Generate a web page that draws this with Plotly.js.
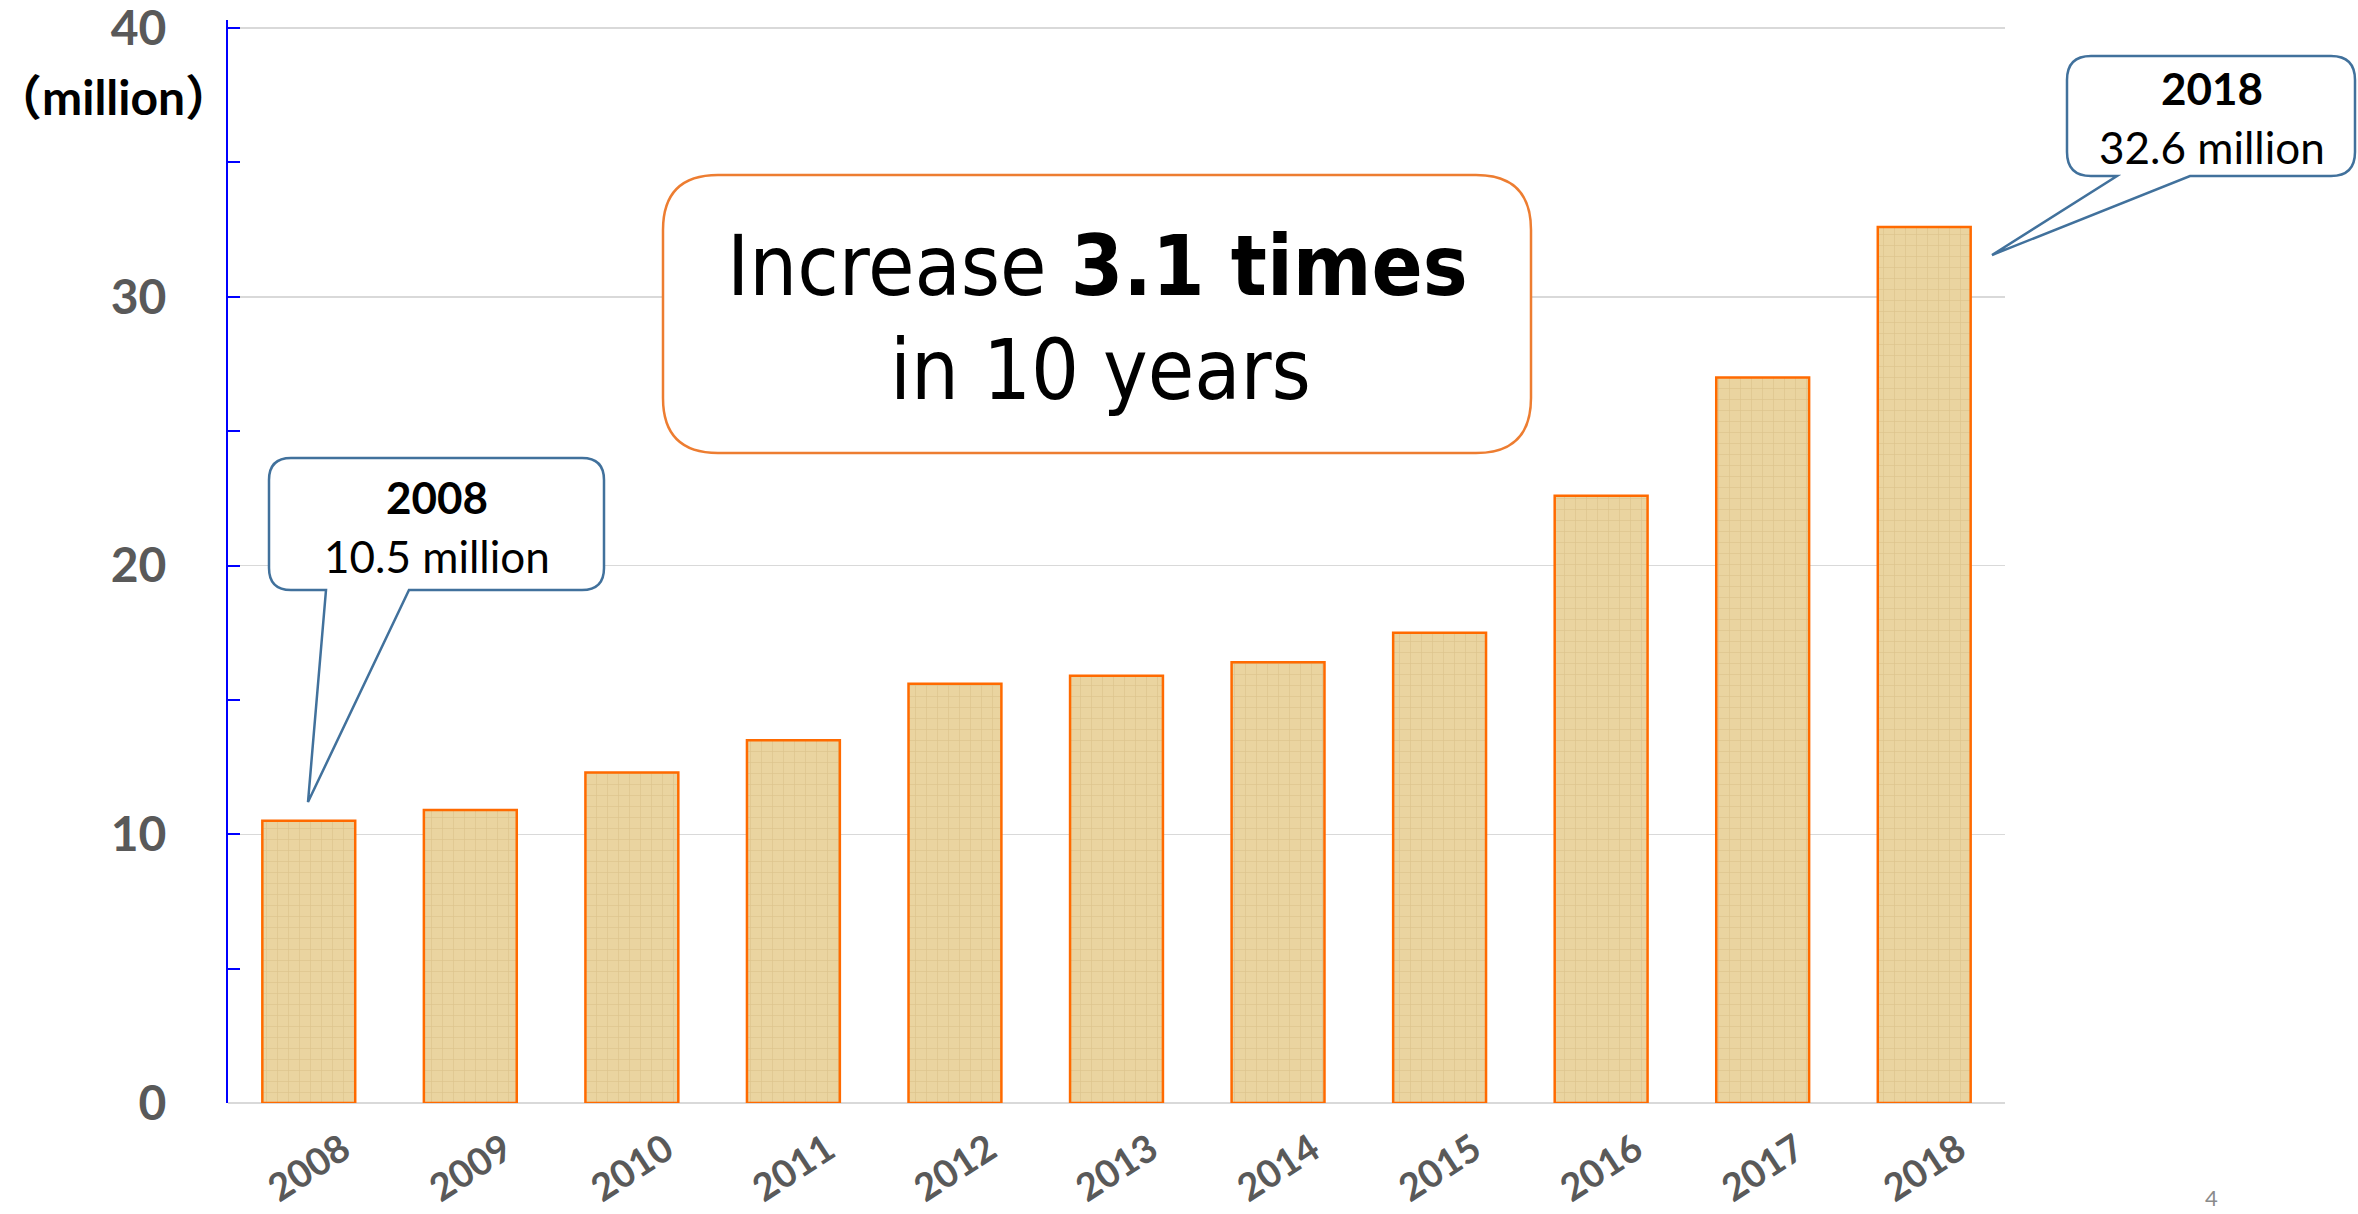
<!DOCTYPE html>
<html>
<head>
<meta charset="utf-8">
<script src="https://cdn.plot.ly/plotly-3.0.1.min.js"></script>
<style>
  html, body { margin: 0; padding: 0; background: #ffffff; }
  #chart { width: 2358px; height: 1214px; }
</style>
</head>
<body>
<div id="chart"></div>
<script>
// ---- data ----
const years = ['2008', '2009', '2010', '2011', '2012', '2013', '2014', '2015', '2016', '2017', '2018'];
const visitors = [10.5, 10.9, 12.3, 13.5, 15.6, 15.9, 16.4, 17.5, 22.6, 27.0, 32.6];
const yTickVals = [0, 10, 20, 30, 40];
const yTickText = ['0', '10', '20', '30', '40'];
const unitLabel = '（million）';
const pageNumber = '4';

// ---- layout geometry (pixels) ----
const W = 2358, H = 1214;
const yMax = 40.3;
const L = 228, R = 2005, T = 20, B = 1103;
const pw = R - L, ph = B - T;
const px = x => (x - L) / pw;
const py = y => (B - y) / ph;
const P = (x, y) => px(x) + ',' + py(y);

function roundRect(x0, y0, x1, y1, r, pointer) {
  let d = 'M' + P(x0 + r, y0) + ' L' + P(x1 - r, y0) +
    ' Q' + P(x1, y0) + ' ' + P(x1, y0 + r) +
    ' L' + P(x1, y1 - r) +
    ' Q' + P(x1, y1) + ' ' + P(x1 - r, y1);
  if (pointer) {
    d += ' L' + P(pointer.b2, y1) + ' L' + P(pointer.tx, pointer.ty) + ' L' + P(pointer.b1, y1);
  }
  d += ' L' + P(x0 + r, y1) +
    ' Q' + P(x0, y1) + ' ' + P(x0, y1 - r) +
    ' L' + P(x0, y0 + r) +
    ' Q' + P(x0, y0) + ' ' + P(x0 + r, y0) + ' Z';
  return d;
}

const calloutLine = { color: '#41719C', width: 2.5 };
const shapes = [
  { type: 'path', xref: 'paper', yref: 'paper', layer: 'above',
    path: roundRect(663, 175, 1531, 453, 55), fillcolor: '#ffffff',
    line: { color: '#ED7D31', width: 2.5 } },
  { type: 'path', xref: 'paper', yref: 'paper', layer: 'above',
    path: roundRect(269, 458, 604, 590, 22, { b1: 326, b2: 409, tx: 308, ty: 802 }),
    fillcolor: '#ffffff', line: calloutLine },
  { type: 'path', xref: 'paper', yref: 'paper', layer: 'above',
    path: roundRect(2067, 56, 2355, 176, 24, { b1: 2117, b2: 2190, tx: 1992, ty: 255 }),
    fillcolor: '#ffffff', line: calloutLine }
];

const ratio = (visitors[visitors.length - 1] / visitors[0]).toFixed(1);
const span = parseInt(years[years.length - 1]) - parseInt(years[0]);
const bigFont = { family: 'DejaVu Sans Condensed, DejaVu Sans, sans-serif', size: 84, color: '#000000' };
const calFont = { family: 'Lato, Noto Sans, sans-serif', size: 44, color: '#000000' };

const annotations = [
  { xref: 'paper', yref: 'paper', x: px(1097), y: py(266), text: 'Increase <b>' + ratio + ' times</b>',
    showarrow: false, font: bigFont, xanchor: 'center', yanchor: 'middle' },
  { xref: 'paper', yref: 'paper', x: px(1100), y: py(370), text: 'in ' + span + ' years',
    showarrow: false, font: bigFont, xanchor: 'center', yanchor: 'middle' },
  { xref: 'paper', yref: 'paper', x: px(437), y: py(497), text: '<b>' + years[0] + '</b>',
    showarrow: false, font: calFont, xanchor: 'center', yanchor: 'middle' },
  { xref: 'paper', yref: 'paper', x: px(437), y: py(556), text: visitors[0].toFixed(1) + ' million',
    showarrow: false, font: calFont, xanchor: 'center', yanchor: 'middle' },
  { xref: 'paper', yref: 'paper', x: px(2212), y: py(88), text: '<b>' + years[years.length - 1] + '</b>',
    showarrow: false, font: calFont, xanchor: 'center', yanchor: 'middle' },
  { xref: 'paper', yref: 'paper', x: px(2212), y: py(147), text: visitors[visitors.length - 1].toFixed(1) + ' million',
    showarrow: false, font: calFont, xanchor: 'center', yanchor: 'middle' },
  { xref: 'paper', yref: 'paper', x: px(113), y: py(97), text: '<b>' + unitLabel + '</b>',
    showarrow: false, font: { family: 'Lato, Noto Sans CJK SC, sans-serif', size: 48, color: '#000000' },
    xanchor: 'center', yanchor: 'middle' },
  { xref: 'paper', yref: 'paper', x: px(2211), y: py(1197), text: pageNumber,
    showarrow: false, font: { family: 'Lato, sans-serif', size: 22, color: '#8B8B8B' },
    xanchor: 'center', yanchor: 'middle' }
];

const trace = {
  type: 'bar',
  x: years,
  y: visitors,
  width: 0.575,
  marker: {
    color: '#EAD4A0',
    line: { color: '#FF6A00', width: 2.5 },
    pattern: { shape: '+', fgcolor: '#B9975A', fgopacity: 0.28, bgcolor: '#EAD4A0', size: 11, solidity: 0.12 }
  },
  hoverinfo: 'skip'
};

const layout = {
  width: W, height: H,
  margin: { l: L, r: W - R, t: T, b: H - B, pad: 0 },
  paper_bgcolor: '#ffffff', plot_bgcolor: '#ffffff',
  showlegend: false,
  xaxis: {
    type: 'category',
    range: [-0.5, years.length - 0.5],
    showline: false, showgrid: false, zeroline: false,
    ticks: '',
    tickangle: -33,
    tickfont: { family: 'Lato, sans-serif', size: 38, color: '#595959', weight: 'bold' },
    ticklabelstandoff: 16,
    ticklabelshift: 34,
    ticklabeloverflow: 'allow'
  },
  yaxis: {
    range: [0, yMax],
    tickvals: yTickVals, ticktext: yTickText,
    showline: true, linecolor: '#0000FF', linewidth: 2,
    ticks: 'inside', ticklen: 12, tickwidth: 2, tickcolor: '#0000FF',
    minor: { dtick: 5, tick0: 0, ticks: 'inside', ticklen: 12, tickwidth: 2, tickcolor: '#0000FF', showgrid: false },
    showgrid: true, gridcolor: '#D9D9D9', gridwidth: 1.5,
    zeroline: true, zerolinecolor: '#D9D9D9', zerolinewidth: 2,
    tickfont: { family: 'Lato, sans-serif', size: 48, color: '#595959', weight: 'bold' },
    ticklabelstandoff: 50,
    ticklabeloverflow: 'allow'
  },
  shapes: shapes,
  annotations: annotations
};

Plotly.newPlot('chart', [trace], layout, { staticPlot: true, displayModeBar: false });
</script>
</body>
</html>
